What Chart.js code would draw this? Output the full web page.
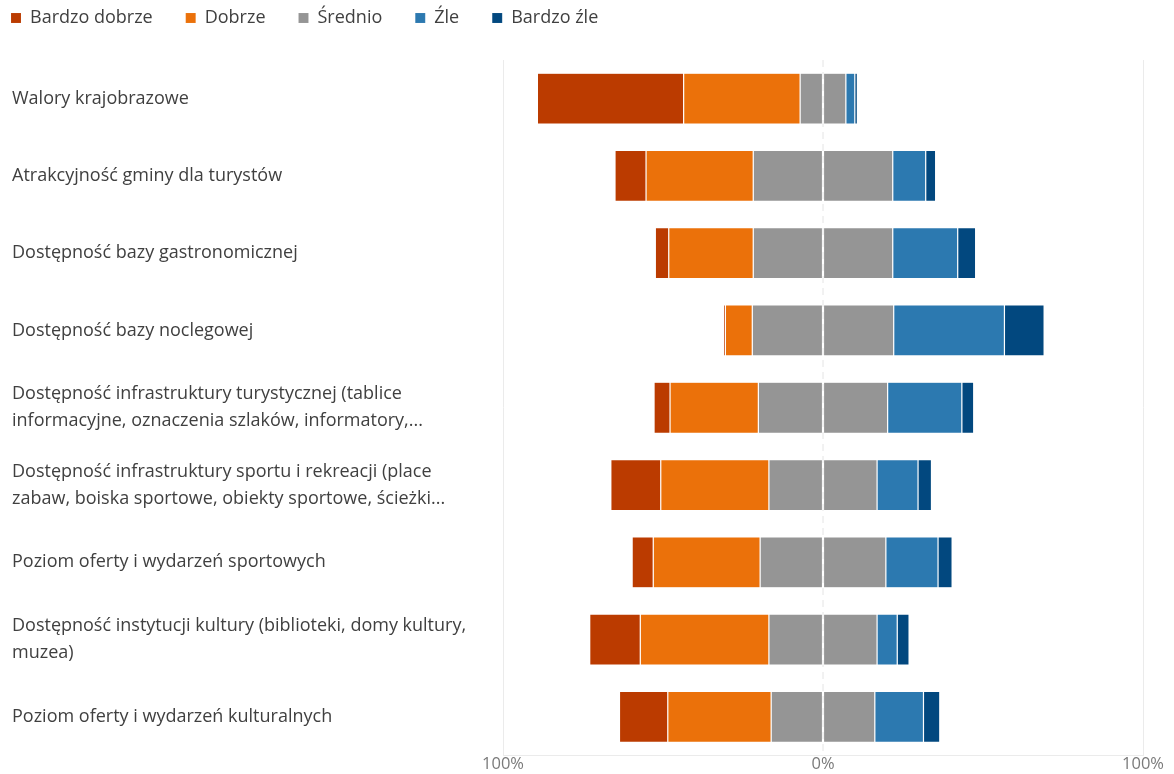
<!DOCTYPE html>
<html lang="pl">
<head>
<meta charset="utf-8">
<script src="https://cdn.jsdelivr.net/npm/chart.js@4/dist/chart.umd.min.js"></script>
<style>
    html, body { margin: 0; padding: 0; background: #fff; }
    #wrap { width: 1174px; height: 774px; }
</style>
</head>
<body>
<div id="wrap"><canvas id="chart"></canvas></div>
<script>
// Data (percent of answers)
const categories = [
    ['Walory krajobrazowe'],
    ['Atrakcyjność gminy dla turystów'],
    ['Dostępność bazy gastronomicznej'],
    ['Dostępność bazy noclegowej'],
    ['Dostępność infrastruktury turystycznej (tablice', 'informacyjne, oznaczenia szlaków, informatory,...'],
    ['Dostępność infrastruktury sportu i rekreacji (place', 'zabaw, boiska sportowe, obiekty sportowe, ścieżki...'],
    ['Poziom oferty i wydarzeń sportowych'],
    ['Dostępność instytucji kultury (biblioteki, domy kultury,', 'muzea)'],
    ['Poziom oferty i wydarzeń kulturalnych']
];
const bardzoDobrze = [45.7, 9.7, 4.2, 0.6, 5.0, 15.6, 6.6, 15.8, 15.1];
const dobrze       = [36.4, 33.5, 26.4, 8.4, 27.6, 33.8, 33.4, 40.2, 32.3];
const srednio      = [14.3, 43.6, 43.6, 44.2, 40.4, 33.8, 39.3, 33.8, 32.4];
const zle          = [2.8, 10.3, 20.3, 34.6, 23.2, 12.8, 16.3, 6.3, 15.2];
const bardzoZle    = [0.8, 3.1, 5.6, 12.4, 3.7, 4.2, 4.4, 3.7, 5.1];
const axisTicks    = [-100, 0, 100];

const colors = {
    bardzoDobrze: '#bb3b00',
    dobrze: '#eb710a',
    srednio: '#959595',
    zle: '#2c79b0',
    bardzoZle: '#02487f'
};

const legendOrder = ['Bardzo dobrze', 'Dobrze', 'Średnio', 'Źle', 'Bardzo źle'];
const segBorder = 'rgba(255,255,255,0.15)';

function seg(label, values, color, sign, legend) {
    return {
        label: label,
        data: values.map(v => sign * v),
        backgroundColor: color,
        borderColor: segBorder,
        borderWidth: 0.6,
        borderSkipped: false,
        inLegend: legend
    };
}

// negatives stack outward from 0 in dataset order, so the middle goes first
const datasets = [
    seg('Średnio', srednio.map(v => v / 2), colors.srednio, -1, true),
    seg('Dobrze', dobrze, colors.dobrze, -1, true),
    seg('Bardzo dobrze', bardzoDobrze, colors.bardzoDobrze, -1, true),
    seg('Średnio ', srednio.map(v => v / 2), colors.srednio, 1, false),
    seg('Źle', zle, colors.zle, 1, true),
    seg('Bardzo źle', bardzoZle, colors.bardzoZle, 1, true)
];

// extra room under the legend, y labels pushed in from the edge, dashed 0% line
const extras = {
    id: 'extras',
    beforeLayout(chart) {
        const lg = chart.legend;
        if (lg && !lg._padded) {
            const fit = lg.fit.bind(lg);
            lg.fit = function () { fit(); this.height += 23; };
            lg._padded = true;
        }
    },
    afterLayout(chart) {
        chart.scales.y.left = 12;
    },
    beforeDatasetsDraw(chart) {
        const x = chart.scales.x.getPixelForValue(0);
        const area = chart.chartArea;
        const ctx = chart.ctx;
        ctx.save();
        ctx.strokeStyle = '#e4e4e4';
        ctx.lineWidth = 1;
        ctx.setLineDash([7, 5]);
        ctx.beginPath();
        ctx.moveTo(x, area.top);
        ctx.lineTo(x, area.bottom);
        ctx.stroke();
        ctx.restore();
    },
    afterDatasetsDraw(chart) {
        const x = chart.scales.x.getPixelForValue(0);
        const area = chart.chartArea;
        const ctx = chart.ctx;
        ctx.save();
        ctx.strokeStyle = 'rgba(255,255,255,0.14)';
        ctx.lineWidth = 1;
        ctx.beginPath();
        ctx.moveTo(x, area.top);
        ctx.lineTo(x, area.bottom);
        ctx.stroke();
        ctx.restore();
    }
};

Chart.defaults.font.family = "'Open Sans', 'Noto Sans', sans-serif";
Chart.defaults.color = '#404040';

new Chart(document.getElementById('chart'), {
    type: 'bar',
    data: { labels: categories, datasets: datasets },
    plugins: [extras],
    options: {
        indexAxis: 'y',
        responsive: true,
        maintainAspectRatio: false,
        animation: false,
        barPercentage: 0.66,
        categoryPercentage: 1,
        layout: { padding: { left: -22, right: 31, top: -24, bottom: 0 } },
        plugins: {
            tooltip: { enabled: false },
            legend: {
                position: 'top',
                align: 'start',
                labels: {
                    boxWidth: 10,
                    boxHeight: 10,
                    padding: 33,
                    color: '#404040',
                    font: { size: 18 },
                    filter: (item, data) => data.datasets[item.datasetIndex].inLegend,
                    sort: (a, b) => legendOrder.indexOf(a.text) - legendOrder.indexOf(b.text)
                }
            }
        },
        scales: {
            x: {
                stacked: true,
                min: -100,
                max: 100,
                afterBuildTicks: scale => { scale.ticks = axisTicks.map(v => ({ value: v })); },
                ticks: {
                    padding: 1,
                    color: '#7a7a7a',
                    font: { size: 16.5, lineHeight: 1.0 },
                    callback: v => Math.abs(v) + '%'
                },
                grid: {
                    drawTicks: false,
                    color: ctx => (ctx.tick && ctx.tick.value === 0) ? 'rgba(0,0,0,0)' : '#ebebeb',
                    lineWidth: 1
                },
                border: { display: true, color: '#ebebeb' }
            },
            y: {
                stacked: true,
                afterFit: scale => { scale.width = 525; },
                ticks: {
                    crossAlign: 'far',
                    color: '#404040',
                    font: { size: 18, lineHeight: 1.5 }
                },
                grid: { display: false, drawTicks: false },
                border: { display: false }
            }
        }
    }
});
</script>
</body>
</html>
